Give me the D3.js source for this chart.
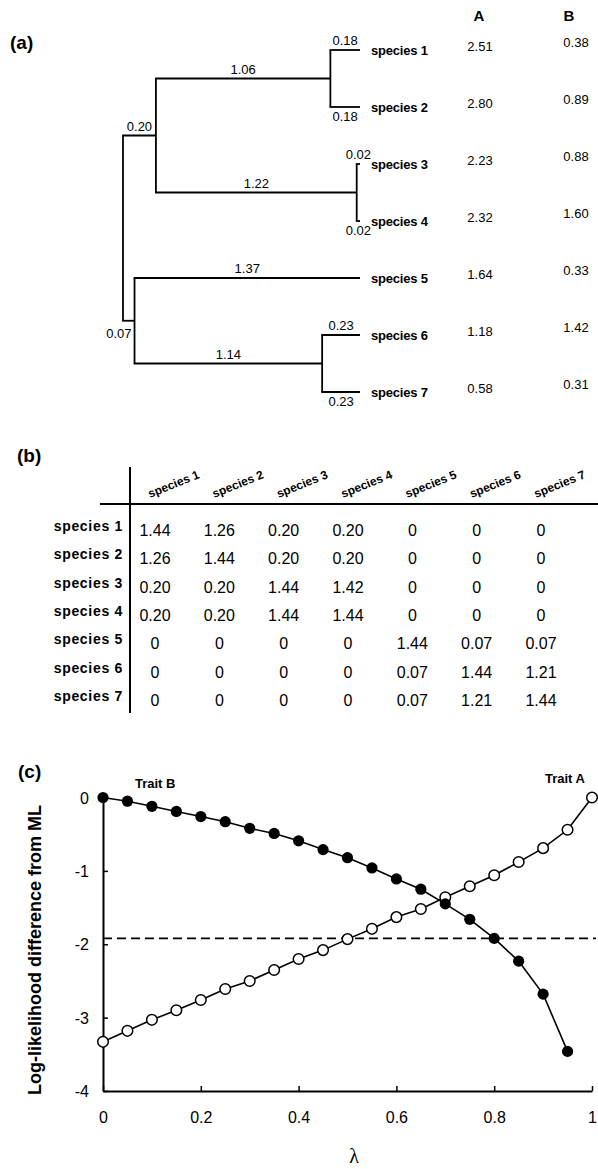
<!DOCTYPE html>
<html><head><meta charset="utf-8">
<script src="https://cdn.jsdelivr.net/npm/d3@7"></script>
<style>
html,body{margin:0;padding:0;background:#fff;}
svg{display:block;font-family:"Liberation Sans",Arial,Helvetica,sans-serif;}
</style></head>
<body>
<svg id="c" width="598" height="1169"></svg>
<script>
// ---------- DATA ----------
const species = ["species 1","species 2","species 3","species 4","species 5","species 6","species 7"];
const traitA = [2.51, 2.80, 2.23, 2.32, 1.64, 1.18, 0.58];
const traitB = [0.38, 0.89, 0.88, 1.60, 0.33, 1.42, 0.31];
const traitHeaders = ["A", "B"];
// tree with branch lengths
const treeData = {children:[
  {len:0.20, children:[
    {len:1.06, children:[{name:"species 1", len:0.18},{name:"species 2", len:0.18}]},
    {len:1.22, children:[{name:"species 3", len:0.02},{name:"species 4", len:0.02}]}
  ]},
  {len:0.07, children:[
    {name:"species 5", len:1.37},
    {len:1.14, children:[{name:"species 6", len:0.23},{name:"species 7", len:0.23}]}
  ]}
]};
// covariance matrix (panel b)
const covRows = [
  [1.44, 1.26, 0.20, 0.20, 0,    0,    0   ],
  [1.26, 1.44, 0.20, 0.20, 0,    0,    0   ],
  [0.20, 0.20, 1.44, 1.42, 0,    0,    0   ],
  [0.20, 0.20, 1.44, 1.44, 0,    0,    0   ],
  [0,    0,    0,    0,    1.44, 0.07, 0.07],
  [0,    0,    0,    0,    0.07, 1.44, 1.21],
  [0,    0,    0,    0,    0.07, 1.21, 1.44]
];
// panel c
const lambdaB = [0,0.05,0.1,0.15,0.2,0.25,0.3,0.35,0.4,0.45,0.5,0.55,0.6,0.65,0.7,0.75,0.8,0.85,0.9,0.95];
const llB = [0,-0.05,-0.12,-0.19,-0.26,-0.33,-0.42,-0.49,-0.59,-0.71,-0.82,-0.96,-1.11,-1.25,-1.45,-1.66,-1.92,-2.23,-2.68,-3.46];
const lambdaA = [0,0.05,0.1,0.15,0.2,0.25,0.3,0.35,0.4,0.45,0.5,0.55,0.6,0.65,0.7,0.75,0.8,0.85,0.9,0.95,1];
const llA = [-3.33,-3.18,-3.03,-2.90,-2.76,-2.61,-2.50,-2.35,-2.20,-2.08,-1.93,-1.79,-1.63,-1.52,-1.36,-1.21,-1.06,-0.88,-0.69,-0.44,0];
const critical = -1.92;
const xTicks = [0,0.2,0.4,0.6,0.8,1];
const yTicks = [0,-1,-2,-3,-4];

// ---------- SETUP ----------
const svg = d3.select("#c");
svg.append("rect").attr("width",598).attr("height",1169).attr("fill","#fff");
const fmt = v => v === 0 ? "0" : (Number.isInteger(v) ? String(v) : v.toFixed(2));

function panelLabel(t,x,y){
  svg.append("text").attr("x",x).attr("y",y).attr("font-size",19).attr("font-weight","bold").text(t);
}

// ---------- PANEL A : tree ----------
panelLabel("(a)",10,49);
const root = d3.hierarchy(treeData);
root.eachBefore(d => { d.dist = d.parent ? d.parent.dist + d.data.len : 0; });
const maxDist = d3.max(root.leaves(), d => d.dist);
const xT = d3.scaleLinear().domain([0, maxDist]).range([123, 360]);
const yT = d3.scalePoint().domain(species).range([50, 392]);
root.eachAfter(d => {
  d.py = d.children ? d3.mean([d.children[0].py, d.children[d.children.length-1].py]) : yT(d.data.name);
});
const gA = svg.append("g").attr("stroke","#000").attr("stroke-width",1.8).attr("fill","none");
root.descendants().forEach(d => {
  if (d.parent) {
    gA.append("line").attr("x1",xT(d.parent.dist)-0.9).attr("x2",xT(d.dist))
      .attr("y1",d.py).attr("y2",d.py);
  }
  if (d.children) {
    gA.append("line").attr("x1",xT(d.dist)).attr("x2",xT(d.dist))
      .attr("y1",d.children[0].py).attr("y2",d.children[d.children.length-1].py);
  }
});
// branch length labels
const gL = svg.append("g").attr("font-size",13);
root.descendants().forEach(d => {
  if (!d.parent) return;
  const sib = d.parent.children;
  const idx = sib.indexOf(d);
  const x0 = xT(d.parent.dist), x1 = xT(d.dist);
  let x = (x0+x1)/2, y = d.py - 5, anchor = "middle";
  const leafPair = sib.every(s => !s.children);
  if (leafPair && idx === 1) { y = d.py + 14; }
  if (!d.parent.parent && idx === 1) { x = x1 - 3; y = d.py + 17; anchor = "end"; }
  gL.append("text").attr("x",x).attr("y",y).attr("text-anchor",anchor).text(fmt(d.data.len));
});
// species labels and trait values
const gS = svg.append("g");
species.forEach((s,i) => {
  gS.append("text").attr("x",371).attr("y",yT(s)+4.5).attr("font-size",13).attr("font-weight","bold")
    .attr("letter-spacing",-0.2).text(s);
  gS.append("text").attr("x",480).attr("y",yT(s)+1).attr("text-anchor","middle").attr("font-size",13).text(fmt(traitA[i]));
  gS.append("text").attr("x",576).attr("y",yT(s)-3).attr("text-anchor","middle").attr("font-size",13).text(fmt(traitB[i]));
});
const hX = d3.scalePoint().domain(traitHeaders).range([479, 569]);
traitHeaders.forEach(h => {
  gS.append("text").attr("x",hX(h)).attr("y",21).attr("text-anchor","middle")
    .attr("font-size",15).attr("font-weight","bold").text(h);
});

// ---------- PANEL B : matrix ----------
panelLabel("(b)",17,462);
const colX = d3.scalePoint().domain(species).range([155, 541]);
const rowY = d3.scalePoint().domain(species).range([530, 700]);
const gB = svg.append("g");
gB.append("line").attr("x1",130).attr("x2",130).attr("y1",467).attr("y2",713).attr("stroke","#000").attr("stroke-width",2);
gB.append("line").attr("x1",100).attr("x2",598).attr("y1",504).attr("y2",504).attr("stroke","#000").attr("stroke-width",2);
species.forEach(s => {
  gB.append("text").attr("transform",`translate(${colX(s)-5},${498}) rotate(-22)`)
    .attr("font-size",12).attr("font-weight","bold").text(s);
  gB.append("text").attr("x",123).attr("y",rowY(s)+1).attr("text-anchor","end")
    .attr("font-size",14).attr("font-weight","bold").attr("letter-spacing",0.7).text(s);
});
covRows.forEach((row,i) => {
  row.forEach((v,j) => {
    gB.append("text").attr("x",colX(species[j])).attr("y",rowY(species[i])+6)
      .attr("text-anchor","middle").attr("font-size",16).text(fmt(v));
  });
});

// ---------- PANEL C : likelihood profile ----------
panelLabel("(c)",18,778);
const xs = d3.scaleLinear().domain([0,1]).range([103, 592]);
const ys = d3.scaleLinear().domain([-4,0]).range([1091, 797.5]);
const gC = svg.append("g");
// axes
const xAxis = d3.axisBottom(xs).tickValues(xTicks).tickSizeInner(-5).tickSizeOuter(0).tickPadding(14).tickFormat(d3.format("~g"));
const yAxis = d3.axisLeft(ys).tickValues(yTicks).tickSizeInner(-5).tickSizeOuter(0).tickPadding(14).tickFormat(d3.format("~g"));
const gx = gC.append("g").attr("transform","translate(0,1091)").call(xAxis);
const gy = gC.append("g").attr("transform","translate(103,0)").call(yAxis);
[gx,gy].forEach(g => {
  g.select(".domain").attr("stroke-width",2);
  g.selectAll(".tick line").attr("stroke-width",1.5);
  g.selectAll("text").attr("font-size",16).attr("font-family","Liberation Sans, Arial, sans-serif").attr("fill","#000");
});
gx.selectAll(".tick text").attr("dy","1.1em");
gy.selectAll(".tick text").attr("dy","0.35em").text(d => d === 0 ? "0" : "-" + Math.abs(d));
// dashed critical line
gC.append("line").attr("x1",xs(0)).attr("x2",596).attr("y1",ys(critical)).attr("y2",ys(critical))
  .attr("stroke","#000").attr("stroke-width",1.6).attr("stroke-dasharray","9,5");
// series
const line = d3.line().x(d => xs(d[0])).y(d => ys(d[1]));
const dataA = lambdaA.map((l,i) => [l, llA[i]]);
const dataB = lambdaB.map((l,i) => [l, llB[i]]);
gC.append("path").datum(dataA).attr("d",line).attr("fill","none").attr("stroke","#000").attr("stroke-width",1.6);
gC.selectAll("circle.a").data(dataA).enter().append("circle").attr("class","a")
  .attr("cx",d=>xs(d[0])).attr("cy",d=>ys(d[1])).attr("r",5.3).attr("fill","#fff").attr("stroke","#000").attr("stroke-width",1.5);
gC.append("path").datum(dataB).attr("d",line).attr("fill","none").attr("stroke","#000").attr("stroke-width",1.6);
gC.selectAll("circle.b").data(dataB).enter().append("circle").attr("class","b")
  .attr("cx",d=>xs(d[0])).attr("cy",d=>ys(d[1])).attr("r",5.6).attr("fill","#000");
// series labels
gC.append("text").attr("x",135).attr("y",788).attr("font-size",13).attr("font-weight","bold").text("Trait B");
gC.append("text").attr("x",545).attr("y",783).attr("font-size",13).attr("font-weight","bold").text("Trait A");
// axis titles
gC.append("text").attr("transform","translate(41,950) rotate(-90)").attr("text-anchor","middle")
  .attr("font-size",18).attr("font-weight","bold").text("Log-likelihood difference from ML");
gC.append("text").attr("x",354).attr("y",1163).attr("text-anchor","middle")
  .attr("font-family","Liberation Serif, Times New Roman, serif").attr("font-size",20).text("λ");
</script>
</body></html>
